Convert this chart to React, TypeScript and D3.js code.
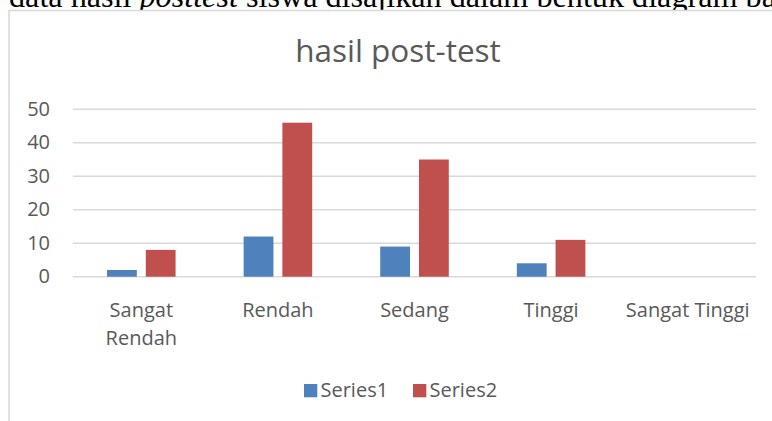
import React from "react";
import * as d3 from "d3";

const categories = ["Sangat Rendah", "Rendah", "Sedang", "Tinggi", "Sangat Tinggi"];
const categoryLines = [["Sangat", "Rendah"], ["Rendah"], ["Sedang"], ["Tinggi"], ["Sangat Tinggi"]];
const seriesNames = ["Series1", "Series2"];
const series1 = [2, 12, 9, 4, 0];
const series2 = [8, 46, 35, 11, 0];
const yTicks = [0, 10, 20, 30, 40, 50];
const colors = ["#4f81bd", "#c0504d"];
const titleText = "hasil post-test";

const W = 772;
const H = 421;
const FONT = "'Open Sans', 'Noto Sans', sans-serif";
const TEXT = "#595959";

export default function App() {
  const x = d3.scaleBand<string>().domain(categories).range([73, 756]).padding(0);
  const bw = x.bandwidth();
  const inner = d3
    .scaleBand<string>()
    .domain(seriesNames)
    .range([bw * 0.249, bw - bw * 0.249])
    .paddingInner(0.2308)
    .paddingOuter(0);
  const y = d3.scaleLinear().domain([0, 50]).range([276.7, 109.3]);
  const data = [series1, series2];

  return (
    <div style={{ position: "absolute", left: 0, top: 0, width: W, height: H, overflow: "hidden", background: "#fff" }}>
      <svg width={W} height={H} style={{ display: "block" }}>
        <text x={9} y={7} fontFamily="'Liberation Serif', 'Times New Roman', serif" fontSize={32.2} fill="#000">
          <tspan>data hasil </tspan>
          <tspan fontStyle="italic">posttest</tspan>
          <tspan> siswa disajikan dalam bentuk diagram batang</tspan>
        </text>
        <rect x={9} y={10.5} width={900} height={600} fill="#fff" stroke="#d9d9d9" strokeWidth={1.5} />
        <text x={398} y={62} textAnchor="middle" fontFamily={FONT} fontSize={31.5} fill={TEXT}>
          {titleText}
        </text>
        {yTicks.map((t) => (
          <g key={t}>
            <line x1={73} x2={756} y1={y(t)} y2={y(t)} stroke="#d9d9d9" strokeWidth={1.5} />
            <text x={50} y={y(t) + 6.5} textAnchor="end" fontFamily={FONT} fontSize={20} fill={TEXT}>
              {t}
            </text>
          </g>
        ))}
        {categories.map((c, i) => (
          <g key={c} transform={`translate(${x(c)},0)`}>
            {data.map((s, j) => (
              <rect
                key={j}
                x={inner(seriesNames[j])}
                width={inner.bandwidth()}
                y={y(s[i])}
                height={y(0) - y(s[i])}
                fill={colors[j]}
              />
            ))}
            {categoryLines[i].map((ln, k) => (
              <text
                key={k}
                x={bw / 2}
                y={316.5 + k * 28}
                textAnchor="middle"
                fontFamily={FONT}
                fontSize={20}
                fill={TEXT}
              >
                {ln}
              </text>
            ))}
          </g>
        ))}
        {seriesNames.map((n, j) => {
          const lx = j === 0 ? 304 : 413;
          return (
            <g key={n}>
              <rect x={lx} y={384} width={13.3} height={13.3} fill={colors[j]} />
              <text x={lx + 16.5} y={397.3} fontFamily={FONT} fontSize={20} fill={TEXT}>
                {n}
              </text>
            </g>
          );
        })}
      </svg>
    </div>
  );
}
